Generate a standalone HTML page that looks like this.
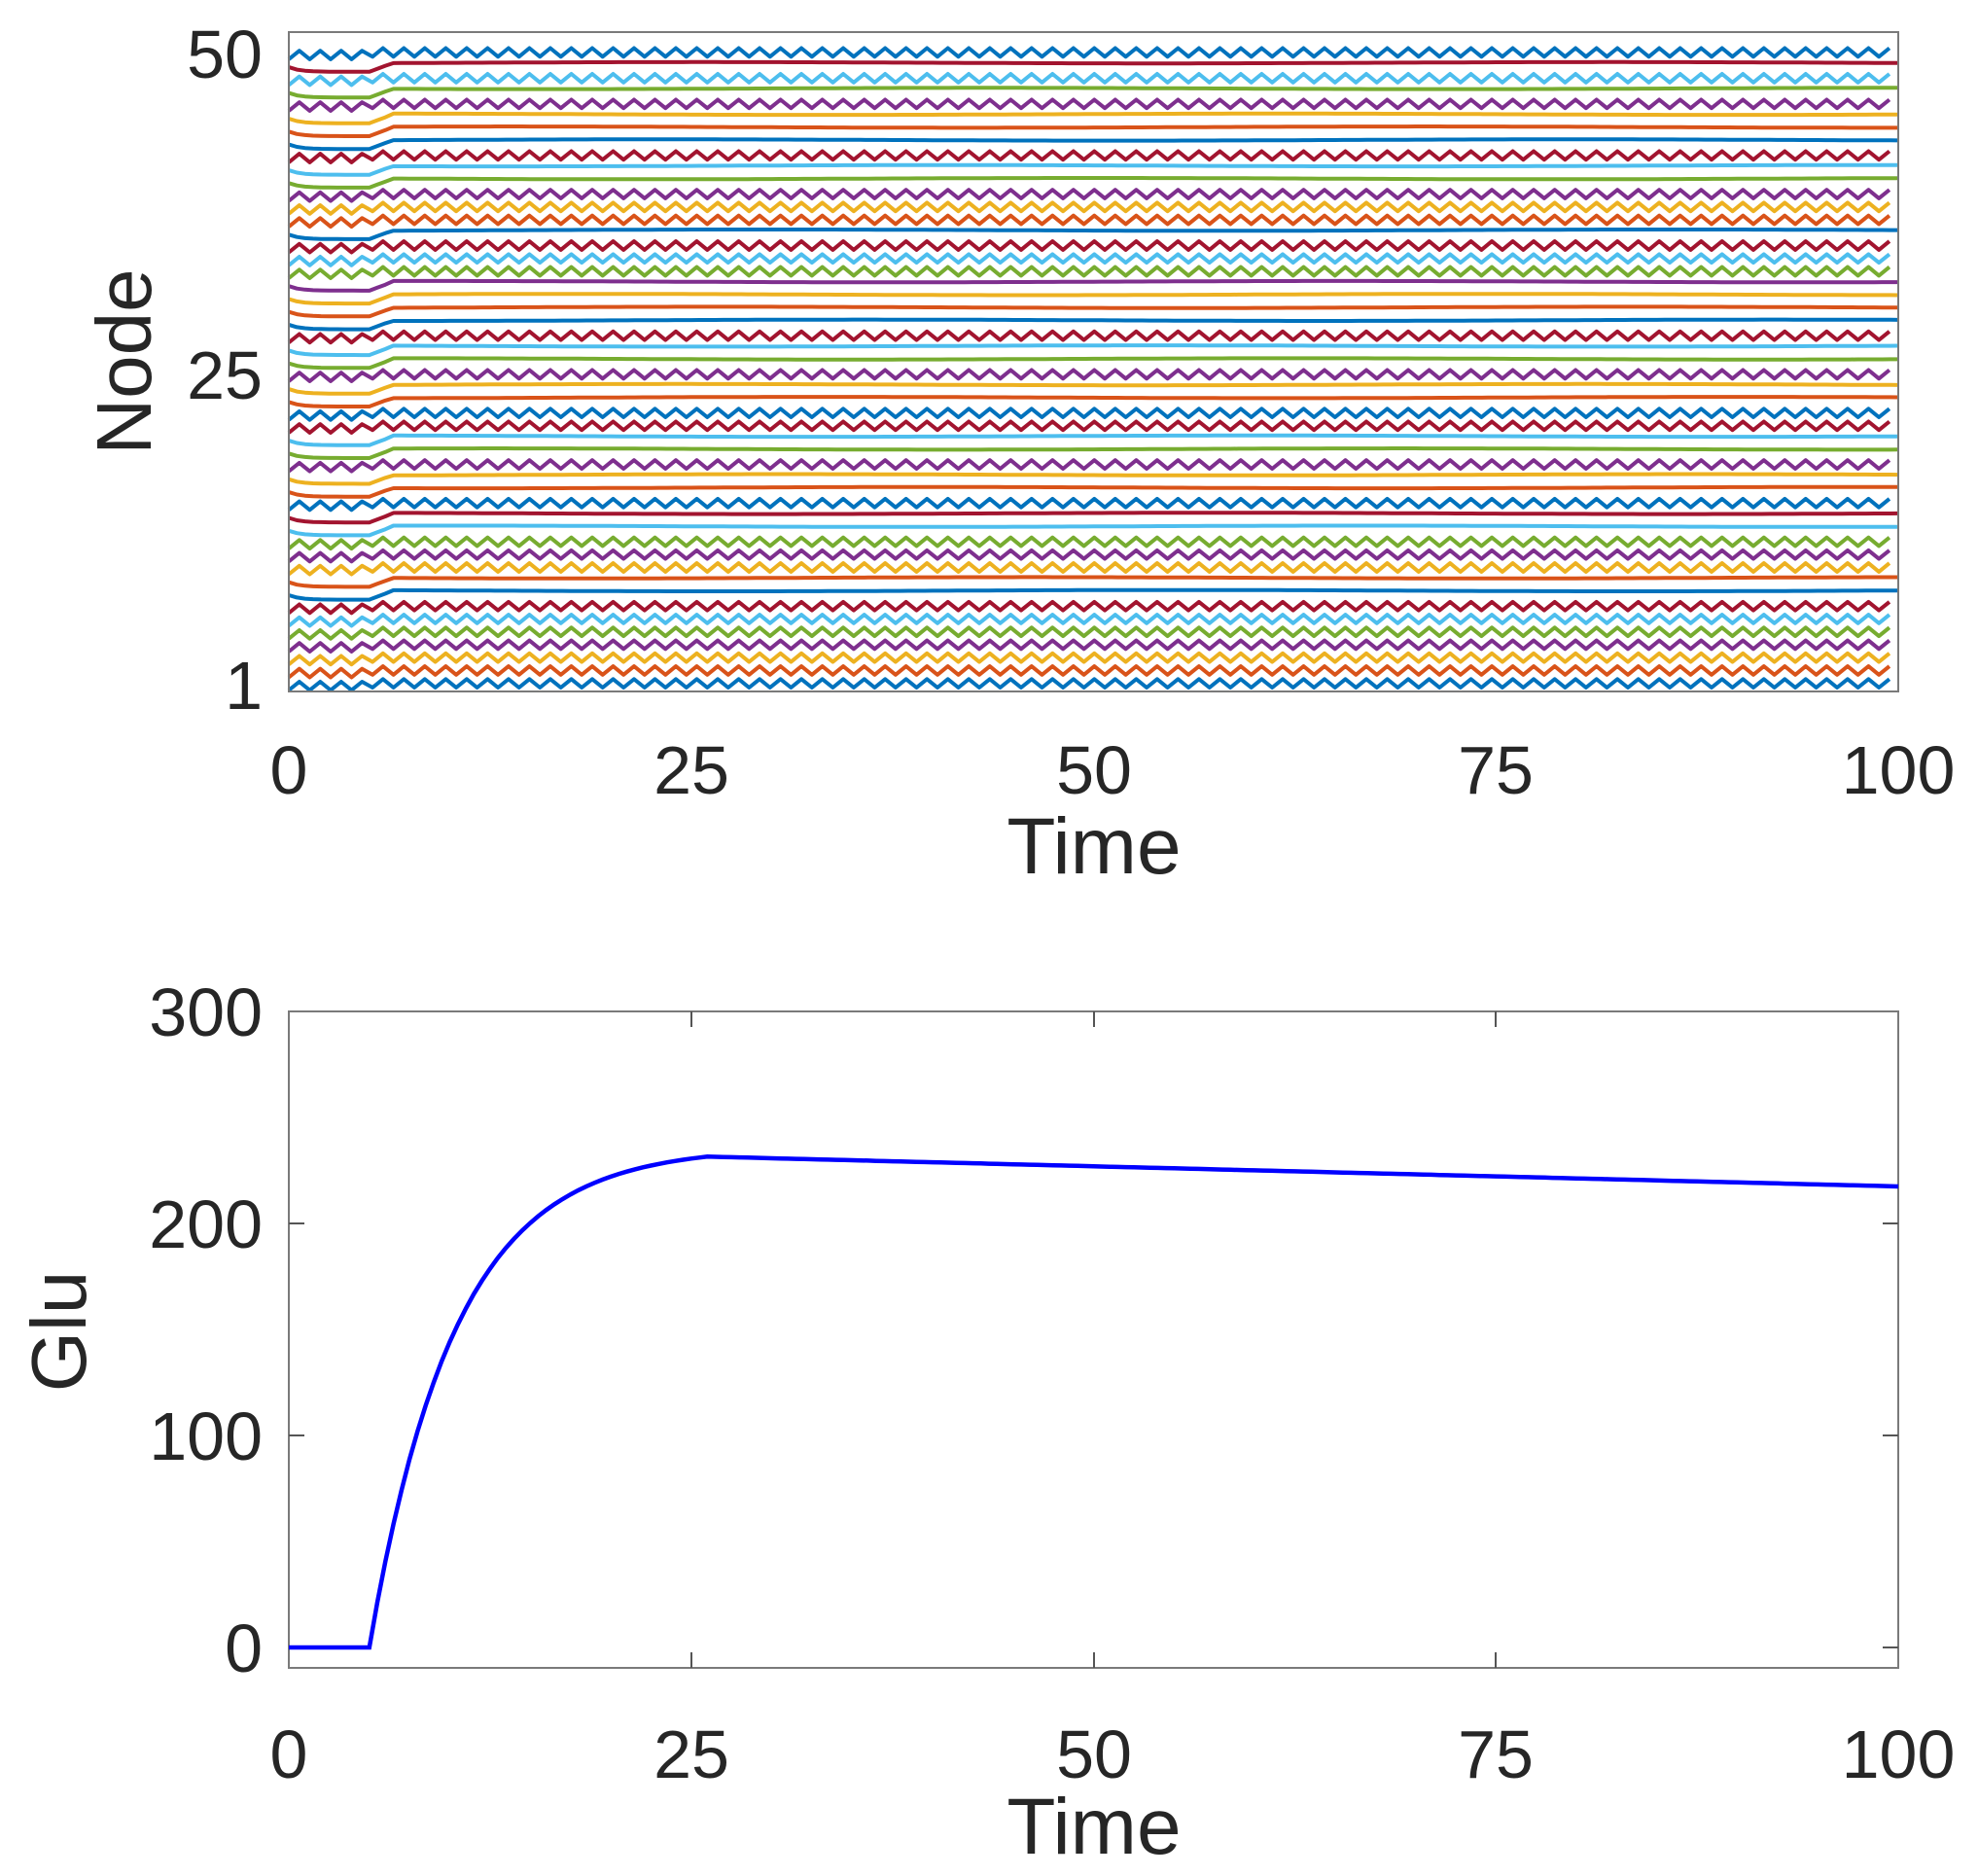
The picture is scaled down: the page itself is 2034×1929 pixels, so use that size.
<!DOCTYPE html>
<html><head><meta charset="utf-8"><style>
html,body{margin:0;padding:0;background:#fff}
svg text{font-family:"Liberation Sans",Arial,sans-serif;fill:#262626}
</style></head><body>
<svg id="s" width="2034" height="1924" xmlns="http://www.w3.org/2000/svg">
<rect width="2034" height="1924" fill="#fff"/>
<g id="top"></g>
<rect x="297" y="33" width="1655" height="678" fill="none" stroke="#7a7a7a" stroke-width="2"/>
<g font-size="70" text-anchor="end">
<text x="270" y="80">50</text>
<text x="270" y="410">25</text>
<text x="270" y="729">1</text>
</g>
<g font-size="70" text-anchor="middle">
<text x="297" y="816">0</text><text x="711" y="816">25</text><text x="1125" y="816">50</text><text x="1538" y="816">75</text><text x="1952" y="816">100</text>
<text x="1125" y="898" font-size="82">Time</text>
<text transform="translate(155,372) rotate(-90)" font-size="80">Node</text>
</g>
<rect x="297" y="1040" width="1655" height="675" fill="none" stroke="#7a7a7a" stroke-width="2"/>
<g stroke="#555" stroke-width="2">
<line x1="297" y1="1258" x2="313" y2="1258"/><line x1="297" y1="1476" x2="313" y2="1476"/><line x1="297" y1="1694" x2="313" y2="1694"/>
<line x1="1952" y1="1258" x2="1936" y2="1258"/><line x1="1952" y1="1476" x2="1936" y2="1476"/><line x1="1952" y1="1694" x2="1936" y2="1694"/>
<line x1="711" y1="1715" x2="711" y2="1699"/><line x1="1125" y1="1715" x2="1125" y2="1699"/><line x1="1538" y1="1715" x2="1538" y2="1699"/>
<line x1="711" y1="1040" x2="711" y2="1056"/><line x1="1125" y1="1040" x2="1125" y2="1056"/><line x1="1538" y1="1040" x2="1538" y2="1056"/>
</g>
<g font-size="70" text-anchor="end">
<text x="270" y="1065">300</text><text x="270" y="1283">200</text><text x="270" y="1501">100</text><text x="270" y="1719">0</text>
</g>
<g font-size="70" text-anchor="middle">
<text x="297" y="1828">0</text><text x="711" y="1828">25</text><text x="1125" y="1828">50</text><text x="1538" y="1828">75</text><text x="1952" y="1828">100</text>
<text x="1125" y="1906" font-size="82">Time</text>
<text transform="translate(88,1369) rotate(-90)" font-size="80">Glu</text>
</g>
<path id="glu" fill="none" stroke="#0000ff" stroke-width="4.5"/>
</svg>
<script>
var C=["#0072BD","#D95319","#EDB120","#7E2F8E","#77AC30","#4DBEEE","#A2142F"];
var osc={50:1,48:1,46:1,42:1,39:1,38:1,37:1,35:1,34:1,33:1,28:1,25:1,22:1,21:1,18:1,15:1,12:1,11:1,10:1,7:1,6:1,5:1,4:1,3:1,2:1,1:1};
function X(t){return 297+t*16.55}
function Y(v){return 704-(v-1)*13.24}
var g=document.getElementById("top"),h="";
for(var i=1;i<=50;i++){
 var p=[],c=C[(i-1)%7];
 if(osc[i]){
  var per=1.3,amp=0.33;
  for(var k=0;k*per/2<=100.01;k++){var t=Math.min(100,k*per/2);var off=t<5?-0.1:0.1;p.push(X(t).toFixed(1)+","+Y(i+off+(k%2?amp:-amp)).toFixed(1));}
 }else{
  for(var t=0;t<=100;t+=0.5){var v;
   if(t<=5)v=i-0.05-0.35*(1-Math.exp(-t*1.5));
   else if(t<6.5)v=i-0.4+0.7*(t-5)/1.5;
   else v=i+0.3+0.05*Math.sin(t/9+i);
   p.push(X(t).toFixed(1)+","+Y(v).toFixed(1));}
 }
 h+='<polyline fill="none" stroke="'+c+'" stroke-width="4" stroke-linejoin="round" points="'+p.join(" ")+'"/>';
}
g.innerHTML=h;
var d="";
for(var t=0;t<=100;t+=0.5){var v;
 if(t<=5)v=0;
 else if(t<=26)v=236*(1-Math.exp(-(t-5)/5.3))-0.0*(t);
 else v=236*(1-Math.exp(-21/5.3))-(t-26)*0.19;
 d+=(t==0?"M":"L")+X(t).toFixed(1)+","+(1694-v*2.18).toFixed(1);}
document.getElementById("glu").setAttribute("d",d);
</script>
</body></html>
